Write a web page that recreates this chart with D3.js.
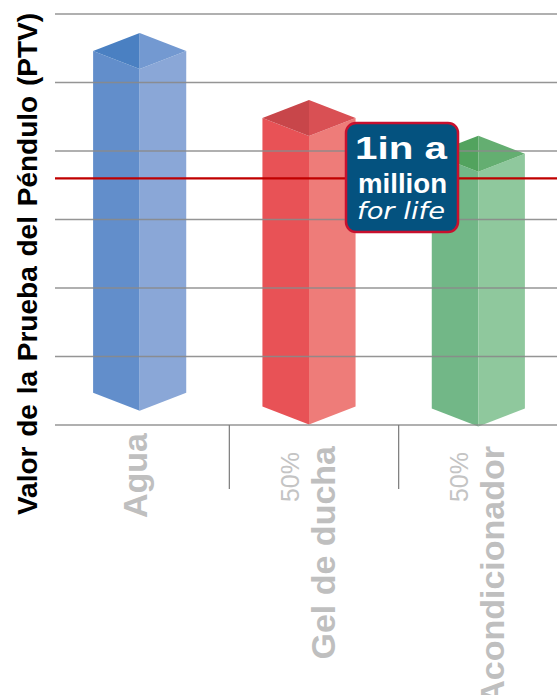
<!DOCTYPE html>
<html lang="es">
<head>
  <meta charset="UTF-8">
  <title>Valor de la Prueba del Péndulo (PTV)</title>
  <script src="https://d3js.org/d3.v7.min.js"></script>
  <style>
    body { margin: 0; background: #fff; font-family: "Liberation Sans", Arial, sans-serif; }
  </style>
</head>
<body>
  <div id="chart"></div>

  <script>
    // datos
    const categorias = ["Agua", "Gel de ducha", "Acondicionador"];
    const prefijos   = ["", "50%", "50%"];
    const ptvTope    = [54.6, 44.8, 39.6];   // parte alta de cada prisma
    const ptvBase    = [4.7, 2.7, 2.4];      // parte baja (flotan sobre el suelo)
    const umbral     = 36;                   // línea roja
    const ticksY     = [0, 10, 20, 30, 40, 50, 60];

    const colores = [
      {tl: "#4a80c2", tr: "#7399d1", l: "#628ecb", r: "#8aa7d7"},
      {tl: "#c8464a", tr: "#d95054", l: "#e85256", r: "#ee7c79"},
      {tl: "#52a35e", tr: "#64ae71", l: "#72b787", r: "#8fc89d"}
    ];

    const W = 557, H = 695;
    const mLeft = 55, mTop = 14, mBottom = 425;

    const data = categorias.map((c, i) => ({cat: c, pre: prefijos[i], tope: ptvTope[i], base: ptvBase[i], col: colores[i]}));

    const svg = d3.select("#chart").append("svg")
      .attr("width", W).attr("height", H);

    const x = d3.scaleBand().domain(categorias).range([mLeft, 563]).padding(0);
    const y = d3.scaleLinear().domain([0, 60]).range([mBottom, mTop]);

    const bw = x.bandwidth();
    const hw = bw * 0.275, dep = 18;

    // prismas
    const bar = svg.selectAll(".bar").data(data).enter().append("g").attr("class", "bar");
    const pts = a => a.map(p => p.join(",")).join(" ");
    bar.each(function(d) {
      const g = d3.select(this);
      const cx = x(d.cat) + bw / 2, yt = y(d.tope), yb = y(d.base);
      g.append("polygon").attr("fill", d.col.l)
        .attr("points", pts([[cx - hw, yt], [cx, yt + dep], [cx, yb + dep], [cx - hw, yb]]));
      g.append("polygon").attr("fill", d.col.r)
        .attr("points", pts([[cx, yt + dep], [cx + hw, yt], [cx + hw, yb], [cx, yb + dep]]));
      g.append("polygon").attr("fill", d.col.tl)
        .attr("points", pts([[cx - hw, yt], [cx, yt - dep], [cx, yt + dep]]));
      g.append("polygon").attr("fill", d.col.tr)
        .attr("points", pts([[cx, yt - dep], [cx + hw, yt], [cx, yt + dep]]));
    });

    // líneas de cuadrícula
    svg.append("g").selectAll("line").data(ticksY).enter().append("line")
      .attr("x1", mLeft).attr("x2", W)
      .attr("y1", d => y(d)).attr("y2", d => y(d))
      .attr("stroke", "#8a8a8a").attr("stroke-width", 1.5).attr("stroke-opacity", 0.9);

    // separadores de categorías (el suelo 3D queda un poco desplazado)
    svg.append("g").selectAll("line").data(categorias.slice(1)).enter().append("line")
      .attr("x1", d => x(d) + 5).attr("x2", d => x(d) + 5)
      .attr("y1", mBottom).attr("y2", mBottom + 64)
      .attr("stroke", "#7a7a7a").attr("stroke-width", 1.2);

    // umbral
    svg.append("line")
      .attr("x1", mLeft).attr("x2", W)
      .attr("y1", y(umbral)).attr("y2", y(umbral))
      .attr("stroke", "#c00000").attr("stroke-width", 2.2);

    // etiquetas del eje x
    const lab = svg.selectAll(".lab").data(data).enter().append("g").attr("class", "lab");
    lab.each(function(d) {
      const g = d3.select(this);
      const cx = x(d.cat) + bw / 2;
      if (d.pre) {
        g.append("text")
          .attr("transform", `translate(${cx - 10},452) rotate(-90)`)
          .attr("text-anchor", "end")
          .attr("fill", "#c4c4c4")
          .style("font-size", "25px")
          .text(d.pre);
      }
      const nx = d.pre ? cx + 26 : cx + 7;
      g.append("text")
        .attr("transform", `translate(${nx},${d.pre ? 446 : 433}) rotate(-90)`)
        .attr("text-anchor", "end")
        .attr("fill", "#bfbfbf")
        .style("font-size", "34px")
        .style("font-weight", "bold")
        .text(d.cat);
    });

    // título del eje y
    svg.append("text")
      .attr("transform", `translate(37,264) rotate(-90)`)
      .attr("text-anchor", "middle")
      .attr("fill", "#000")
      .style("font-size", "28px")
      .style("font-weight", "bold")
      .style("word-spacing", "2px")
      .text("Valor de la Prueba del Péndulo (PTV)");

    // logo "1 in a million for life"
    const logo = svg.append("g").attr("transform", "translate(345,122)");
    logo.append("rect")
      .attr("x", 1).attr("y", 1).attr("width", 112).attr("height", 109)
      .attr("rx", 10)
      .attr("fill", "#04527f").attr("stroke", "#c8102e").attr("stroke-width", 2.5);
    logo.append("text").attr("x", 10).attr("y", 37)
      .attr("textLength", 92).attr("lengthAdjust", "spacingAndGlyphs")
      .attr("fill", "#fff").style("font-size", "31px").style("font-weight", "bold")
      .text("1in a");
    logo.append("text").attr("x", 13).attr("y", 71)
      .attr("textLength", 89).attr("lengthAdjust", "spacingAndGlyphs")
      .attr("fill", "#fff").style("font-size", "27px").style("font-weight", "bold")
      .text("million");
    logo.append("text").attr("x", 12).attr("y", 97)
      .attr("textLength", 88).attr("lengthAdjust", "spacingAndGlyphs")
      .attr("fill", "#fff").style("font-size", "23px").style("font-style", "italic")
      .style("font-family", "'DejaVu Sans', sans-serif")
      .text("for life");
  </script>
</body>
</html>
